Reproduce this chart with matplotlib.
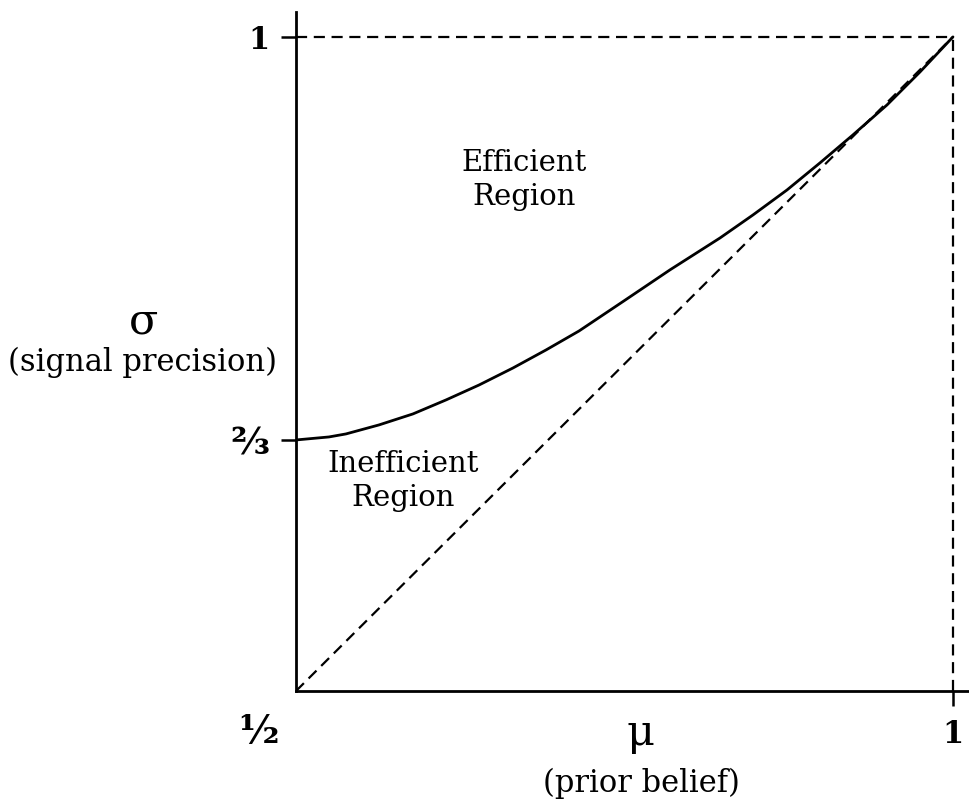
'''Efficient vs inefficient region of signal precision against prior belief.'''
from matplotlib import pyplot as plt

# Boundary curve
mu_curve = [0.5, 0.5251, 0.5380, 0.5632, 0.5890, 0.6142, 0.6393, 0.6651, 0.6903, 0.7154,
            0.7496, 0.7846, 0.8227, 0.8478, 0.8737, 0.8988, 0.9239, 0.9498, 0.9749, 1.0]
sigma_curve = [0.6919, 0.6942, 0.6965, 0.7034, 0.7118, 0.7225, 0.7339, 0.7469, 0.7607, 0.7752,
               0.7982, 0.8219, 0.8463, 0.8639, 0.8830, 0.9037, 0.9251, 0.9480, 0.9732, 1.0]

# Diagonal and box edges
diag_mu = [0.5, 1.0]
diag_sigma = [0.5, 1.0]

ytick_pos = [0.6919, 1.0]
ytick_lab = ['⅔', '1']
xtick_pos = [1.0]
xtick_lab = ['1']

serif = ['DejaVu Serif', 'DejaVu Sans']
plt.rcParams['font.family'] = serif

fig = plt.figure(figsize=(9.69, 8.08), dpi=100)
ax = fig.add_axes([0.30547, 0.1448, 0.69453, 0.8403])

ax.plot(mu_curve, sigma_curve, color='black', lw=2.0,
        solid_capstyle='round', solid_joinstyle='round')
dash = dict(color='black', lw=1.6, dashes=(5, 3))
ax.plot(diag_mu, diag_sigma, **dash)
ax.plot([0.5, 1.0], [1.0, 1.0], **dash)
ax.plot([1.0, 1.0], [0.5, 1.0], **dash)

ax.set_xlim(0.5, 1.0122)
ax.set_ylim(0.5, 1.019)

for s in ['top', 'right']:
    ax.spines[s].set_visible(False)
for s in ['left', 'bottom']:
    ax.spines[s].set_linewidth(2.0)

ax.set_yticks(ytick_pos, ytick_lab)
ax.set_xticks(xtick_pos, xtick_lab)
ax.tick_params(axis='both', direction='out', length=11, width=1.8, labelsize=22)
ax.tick_params(axis='y', pad=8)
ax.tick_params(axis='x', pad=9)
for lab in ax.get_xticklabels() + ax.get_yticklabels():
    lab.set_fontweight('bold')
    if lab.get_text() == '⅔':
        lab.set_fontsize(27)

# corner label
ax.text(0.4711, 0.4690, '½', ha='center', va='center', fontsize=28,
        fontweight='bold', clip_on=False)

# region labels
ax.text(0.6735, 0.8907, 'Efficient\nRegion', ha='center', va='center',
        fontsize=21, linespacing=1.3)
ax.text(0.5814, 0.6606, 'Inefficient\nRegion', ha='center', va='center',
        fontsize=21, linespacing=1.25)

# axis labels
fig.text(0.1486, 1 - 321 / 808, 'σ', ha='center', va='center', fontsize=31)
fig.text(0.1466, 1 - 362 / 808, '(signal precision)', ha='center', va='center', fontsize=22)
fig.text(641 / 969, 1 - 733 / 808, 'μ', ha='center', va='center', fontsize=31)
fig.text(641 / 969, 1 - 783 / 808, '(prior belief)', ha='center', va='center', fontsize=22)

fig.savefig('out.png', dpi=100)
